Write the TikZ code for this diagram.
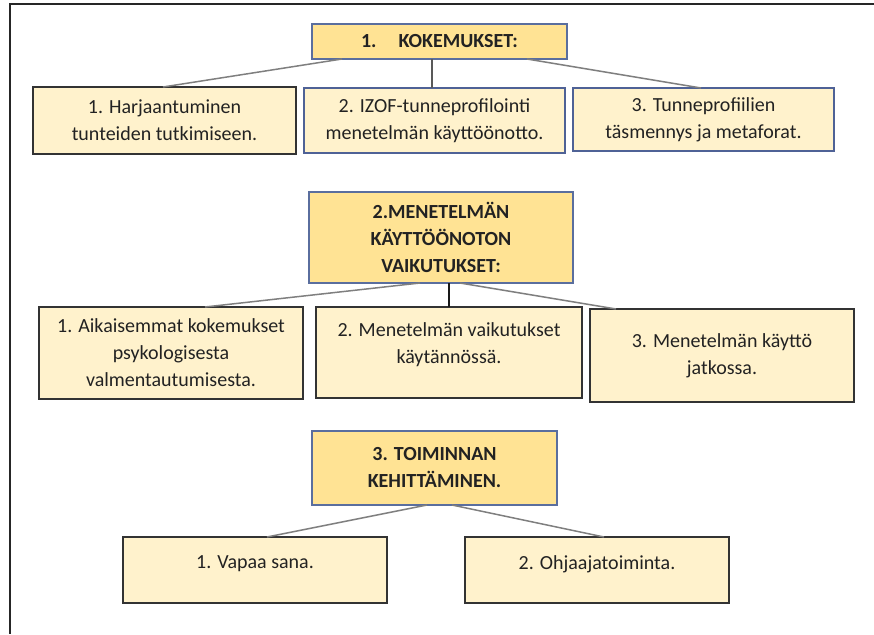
\documentclass[tikz,border=0pt]{standalone}
\usepackage{fontspec}
\setmainfont{Carlito}
\definecolor{hdrfill}{HTML}{FFE394}
\definecolor{subfill}{HTML}{FFF2CC}
\definecolor{hdrborder}{HTML}{5A6E9E}
\definecolor{blueborder}{HTML}{4F6296}
\definecolor{darkborder}{HTML}{333333}
\definecolor{conn}{HTML}{7F7F7F}
\definecolor{txt}{HTML}{222222}
\newcommand{\lowdepth}[1]{\rule[-#1]{0pt}{0pt}}
\begin{document}
\begin{tikzpicture}[x=1pt,y=-1pt,
  hdr/.style={draw=hdrborder, fill=hdrfill, line width=1.4pt, outer sep=0pt, inner sep=0pt,
    align=center, text=txt, font=\bfseries\fontsize{20}{27}\selectfont},
  sub/.style={draw=darkborder, fill=subfill, line width=1.6pt, outer sep=0pt, inner sep=0pt,
    align=center, text=txt, font=\fontsize{20}{27}\selectfont},
  subblue/.style={sub, draw=blueborder, line width=1.4pt},
  link/.style={draw=conn, line width=1.5pt},
  frameline/.style={draw=black!85, line width=2pt}]
\useasboundingbox (0,0) rectangle (874,634);
% outer frame
\coordinate (ftr) at (874,4);
\coordinate (ftl) at (10,4);
\coordinate (fbl) at (10,634);
\draw[frameline] (ftr) -- (ftl) -- (fbl);

% group 1
\node[hdr, minimum width=255pt, minimum height=35pt] (h1) at (439.5,41.5) {1.\hspace{22pt}KOKEMUKSET:};
\node[sub, minimum width=263pt, minimum height=67pt] (a1) at (164.5,120.5) {1. Harjaantuminen\\tunteiden tutkimiseen.};
\node[subblue, minimum width=261pt, minimum height=65pt] (b1) at (434.5,120.5) {2. IZOF-tunneprofilointi\\menetelmän käyttöönotto.};
\node[subblue, minimum width=261pt, minimum height=63pt] (c1) at (703.5,119.5) {3. Tunneprofiilien\\täsmennys ja metaforat.};
\draw[link] ([xshift=-97.5pt]h1.south) -- ([xshift=-1.5pt]a1.north);
\draw[link, draw=black!65] ([xshift=-7.5pt]h1.south) -- ([xshift=-2.5pt]b1.north);
\draw[link] ([xshift=87.5pt]h1.south) -- ([xshift=-2.5pt]c1.north);

% group 2
\node[hdr, minimum width=264pt, minimum height=91pt] (h2) at (441,237.5) {2.MENETELMÄN\\KÄYTTÖÖNOTON\\VAIKUTUKSET:};
\node[sub, minimum width=264pt, minimum height=92pt] (a2) at (171,353) {1. Aikaisemmat kokemukset\\psykologisesta\\valmentautumisesta.};
\node[sub, minimum width=266pt, minimum height=91pt] (b2) at (449,352.5) {2. Menetelmän vaikutukset\\käytännössä.\lowdepth{18pt}};
\node[sub, minimum width=264pt, minimum height=93pt] (c2) at (722,355.5) {3. Menetelmän käyttö\\jatkossa.};
\draw[link] ([xshift=-21pt]h2.south) -- ([xshift=34pt]a2.north);
\draw[link, draw=black!90, line width=1.2pt] ([xshift=8pt]h2.south) -- (b2.north);
\draw[link] ([xshift=19pt]h2.south) -- ([xshift=-106pt]c2.north);

% group 3
\node[hdr, minimum width=245pt, minimum height=74pt] (h3) at (434.5,468) {3. TOIMINNAN\\KEHITTÄMINEN.};
\node[sub, minimum width=264pt, minimum height=66pt] (v3) at (255,570) {1. Vapaa sana.\lowdepth{15pt}};
\node[sub, minimum width=264pt, minimum height=66pt] (o3) at (597,570) {2. Ohjaajatoiminta.\lowdepth{15pt}};
\draw[link] ([xshift=-7.5pt]h3.south) -- ([xshift=12pt]v3.north);
\draw[link] ([xshift=17.5pt]h3.south) -- ([xshift=7pt]o3.north);
\end{tikzpicture}
\end{document}
